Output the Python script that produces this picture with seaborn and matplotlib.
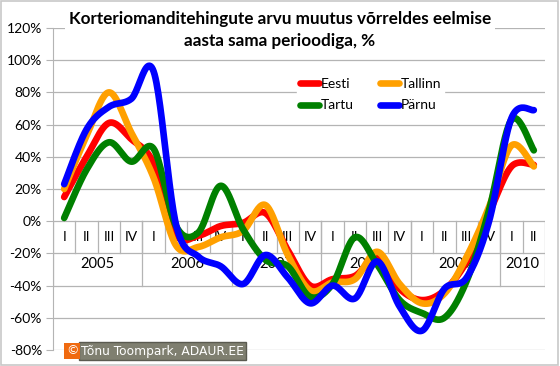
import numpy as np
import pandas as pd
import matplotlib
matplotlib.use("Agg")
import matplotlib.pyplot as plt
from matplotlib.lines import Line2D
from matplotlib.patches import Rectangle
import seaborn as sns

# quarters 2005 I .. 2010 II
quarters = ["I", "II", "III", "IV"] * 5 + ["I", "II"]
years = ["2005", "2006", "2007", "2008", "2009", "2010"]
year_len = [4, 4, 4, 4, 4, 2]

eesti = [15, 40, 61, 51, 36, -8, -9, -3, -1, 5, -18, -40, -36, -34, -23, -42, -49, -43, -25, 5, 34, 35]
tallinn = [20, 53, 80, 55, 27, -15, -16, -10, -6, 10, -21, -43, -38, -36, -19, -39, -51, -45, -22, 9, 47, 34]
tartu = [2, 32, 49, 37, 45, -3, -7, 22, -5, -24, -28, -47, -39, -10, -27, -49, -57, -60, -37, 7, 63, 44]
parnu = [23, 57, 71, 76, 93, -2, -22, -28, -39, -21, -35, -51, -40, -48, -25, -53, -68, -42, -35, 0, 64, 69]

series = {"Eesti": eesti, "Tallinn": tallinn, "Tartu": tartu, "Pärnu": parnu}
colors = {"Eesti": "#ff0000", "Tallinn": "#ffa000", "Tartu": "#008000", "Pärnu": "#0000ff"}


def smooth(y, n=24):
    # Excel-like smoothed line: Catmull-Rom Bezier through the points
    y = np.asarray(y, dtype=float)
    x = np.arange(len(y), dtype=float)
    P = np.column_stack([x, y])
    P = np.vstack([P[0], P, P[-1]])
    out = []
    t = np.linspace(0, 1, n, endpoint=False)[:, None]
    for i in range(1, len(P) - 2):
        p0, p1, p2, p3 = P[i - 1], P[i], P[i + 1], P[i + 2]
        c1 = p1 + (p2 - p0) / 6
        c2 = p2 - (p3 - p1) / 6
        b = ((1 - t) ** 3) * p1 + 3 * ((1 - t) ** 2) * t * c1 + 3 * (1 - t) * t ** 2 * c2 + t ** 3 * p2
        out.append(b)
    out.append(P[-2][None, :])
    return np.vstack(out)


rows = []
for name, vals in series.items():
    s = smooth(vals)
    rows.append(pd.DataFrame({"x": s[:, 0], "y": s[:, 1], "seeria": name}))
df = pd.concat(rows, ignore_index=True)

plt.rcParams["font.family"] = ["Lato", "DejaVu Sans"]
fig = plt.figure(figsize=(5.6, 3.66), dpi=100)
W, H = 560, 366
ax = fig.add_axes([53 / W, 1 - 350 / H, (545 - 53) / W, (350 - 28) / H])

grid_c = "#b4b4b4"
for v in range(-80, 121, 20):
    ax.axhline(v, color=grid_c, lw=0.9, zorder=0)

# category table below the zero line
n = len(quarters)
for i in range(n - 1):
    ax.plot([i + 0.5, i + 0.5], [0, -20], color=grid_c, lw=0.9, zorder=0)
for i, q in enumerate(quarters):
    ax.text(i, -10, q, ha="center", va="center", fontsize=10, color="#000000", zorder=1)
start = 0
for yr, ln in zip(years, year_len):
    ax.plot([start - 0.5, start - 0.5], [0, -40], color=grid_c, lw=0.9, zorder=0)
    ax.text(start + ln / 2 - 0.5, -26.5, yr, ha="center", va="center", fontsize=10.5, zorder=1)
    start += ln
ax.plot([n - 0.5, n - 0.5], [0, -40], color=grid_c, lw=0.9, zorder=0)

sns.lineplot(data=df, x="x", y="y", hue="seeria", palette=colors, sort=False,
             estimator=None, lw=4.8, ax=ax, legend=False, zorder=3)
for l in ax.get_lines()[-4:]:
    l.set_solid_capstyle("round")
    l.set_solid_joinstyle("round")

ax.set_xlim(-0.5, n - 0.5)
ax.set_ylim(-80, 120)
ax.set_yticks(range(-80, 121, 20))
ax.set_yticklabels([f"{v}%" for v in range(-80, 121, 20)], fontsize=10)
ax.set_xticks([])
ax.set_xlabel("")
ax.set_ylabel("")
for s in ["top", "right", "bottom"]:
    ax.spines[s].set_visible(False)
ax.spines["left"].set_color(grid_c)
ax.tick_params(axis="y", length=5, color=grid_c, pad=3)

# legend fills by column, so order gives rows Eesti/Tallinn and Tartu/Pärnu
leg_order = ["Eesti", "Tartu", "Tallinn", "Pärnu"]
handles = [Line2D([0], [0], color=colors[k], lw=4.8, solid_capstyle="round") for k in leg_order]
leg = ax.legend(handles, leg_order, ncol=2, loc="upper left",
                bbox_to_anchor=(290 / W, 1 - 68 / H), bbox_transform=fig.transFigure,
                frameon=True, fontsize=10, handlelength=1.4, handletextpad=0.1,
                columnspacing=1.9, labelspacing=0.7, borderpad=0.2)
leg.get_frame().set_edgecolor("white")
leg.get_frame().set_facecolor("white")
leg.get_frame().set_alpha(1)
leg.set_zorder(5)

fig.text(280 / W, 1 - 30 / H,
         "Korteriomanditehingute arvu muutus võrreldes eelmise\naasta sama perioodiga, %",
         ha="center", va="center", fontsize=12.3, fontweight="bold", linespacing=1.5,
         bbox=dict(facecolor="white", edgecolor="none", pad=3))

fig.text(66 / W, 1 - 351 / H, "©", color="white", fontsize=9, ha="left", va="center",
         family="DejaVu Sans",
         bbox=dict(facecolor="#f06a10", edgecolor="none", pad=1.2), zorder=10)
fig.text(81 / W, 1 - 351 / H, "Tõnu Toompark, ADAUR.EE", color="white", fontsize=8.8,
         ha="left", va="center", family="DejaVu Sans",
         bbox=dict(facecolor="#7f7f70", edgecolor="#5a5a50", pad=1.5), zorder=9)

fig.patches.append(Rectangle((0.002, 0.003), 0.995, 0.993, transform=fig.transFigure,
                             fill=False, edgecolor="#c8c8c8", lw=1.2))

fig.savefig("out.png", dpi=100)
